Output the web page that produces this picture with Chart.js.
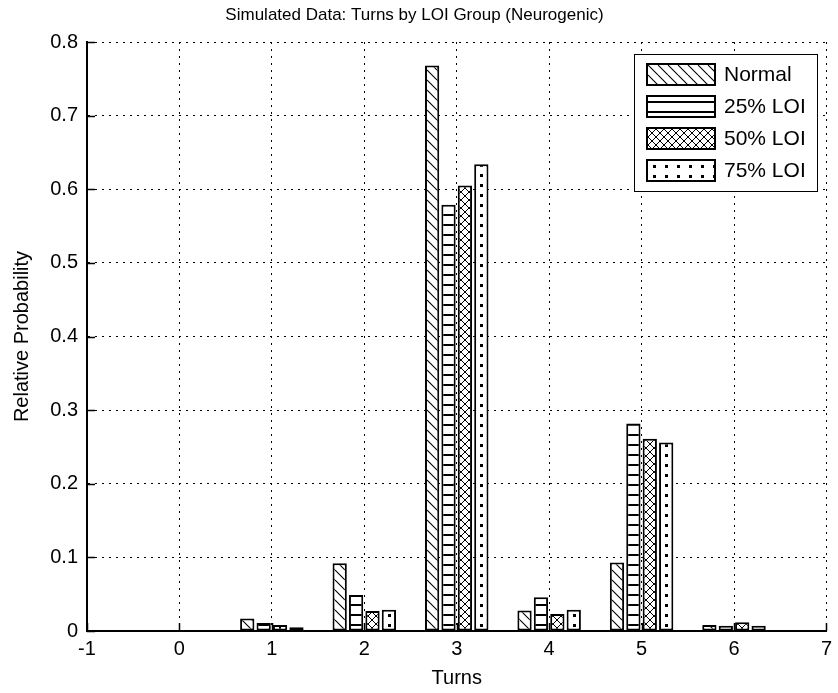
<!DOCTYPE html>
<html>
<head>
<meta charset="utf-8">
<title>Simulated Data: Turns by LOI Group (Neurogenic)</title>
<script src="https://cdn.jsdelivr.net/npm/chart.js@4.4.1/dist/chart.umd.min.js"></script>
<style>
  html, body { margin: 0; padding: 0; background: #fff; }
  #turns-chart { display: block; }
</style>
</head>
<body>
<canvas id="turns-chart" width="838" height="693"></canvas>
<script>
// Turns by LOI group - relative probability per number of turns

// Data
const turns = [1, 2, 3, 4, 5, 6];
const normalProb = [0.017, 0.092, 0.768, 0.028, 0.093, 0.008];
const loi25Prob = [0.011, 0.049, 0.579, 0.046, 0.282, 0.007];
const loi50Prob = [0.008, 0.027, 0.605, 0.023, 0.261, 0.012];
const loi75Prob = [0.005, 0.029, 0.634, 0.029, 0.256, 0.007];
const groupLabels = ['Normal', '25% LOI', '50% LOI', '75% LOI'];
const xTickLabels = ['-1', '0', '1', '2', '3', '4', '5', '6', '7'];
const yTickLabels = ['0', '0.1', '0.2', '0.3', '0.4', '0.5', '0.6', '0.7', '0.8'];

const FONT = "'Liberation Sans', Arial, Helvetica, sans-serif";
const CAT_PCT = 0.71;
const BAR_PCT = 0.87;

// Hatch tiles, MATLAB hatchfill look
function makeTile(kind) {
  const c = document.createElement('canvas');
  const g = c.getContext('2d');
  if (kind === 'diag') {
    c.width = 10; c.height = 10;
    g.fillStyle = '#fff';
    g.fillRect(0, 0, 10, 10);
    g.strokeStyle = '#000';
    g.lineWidth = 1.1;
    g.beginPath();
    [-10, 0, 10].forEach(k => { g.moveTo(k, 0); g.lineTo(k + 10, 10); });
    g.stroke();
  } else if (kind === 'hline') {
    c.width = 10; c.height = 10;
    g.fillStyle = '#fff';
    g.fillRect(0, 0, 10, 10);
    g.fillStyle = '#000';
    g.fillRect(0, 4, 10, 2);
  } else if (kind === 'cross') {
    c.width = 8; c.height = 8;
    g.fillStyle = '#fff';
    g.fillRect(0, 0, 8, 8);
    g.strokeStyle = '#000';
    g.lineWidth = 1;
    g.beginPath();
    [-8, 0, 8].forEach(k => {
      g.moveTo(k, 0); g.lineTo(k + 8, 8);
      g.moveTo(k + 8, 0); g.lineTo(k, 8);
    });
    g.stroke();
  } else {
    c.width = 12; c.height = 10;
    g.fillStyle = '#fff';
    g.fillRect(0, 0, 12, 10);
    g.fillStyle = '#000';
    g.fillRect(5, 4, 3, 3);
  }
  return c;
}

const tiles = {
  diag: makeTile('diag'),
  hline: makeTile('hline'),
  cross: makeTile('cross'),
  dots: makeTile('dots')
};
const patternCtx = tiles.diag.getContext('2d');

function makePattern(kind, dx, dy) {
  const pattern = patternCtx.createPattern(tiles[kind], 'repeat');
  if (isFinite(dx) && isFinite(dy)) {
    pattern.setTransform(new DOMMatrix().translate(Math.round(dx), Math.round(dy)));
  }
  return pattern;
}

// Fill each bar with its pattern lined up on the bar centre
function barFill(kind, seriesIndex) {
  return (ctx) => {
    const xScale = ctx.chart.scales.x;
    if (ctx.type !== 'data' || !xScale) return makePattern(kind, 0, 0);
    const unit = xScale.getPixelForValue(1) - xScale.getPixelForValue(0);
    const size = unit * CAT_PCT;
    const chunk = size / groupLabels.length;
    const center = xScale.getPixelForValue(ctx.raw.x) - size / 2 + chunk * (seriesIndex + 0.5);
    return makePattern(kind, center - tiles[kind].width / 2, 0);
  };
}

const seriesValues = [normalProb, loi25Prob, loi50Prob, loi75Prob];
const seriesKinds = ['diag', 'hline', 'cross', 'dots'];

const datasets = seriesValues.map((values, i) => ({
  label: groupLabels[i],
  data: turns.map((t, j) => ({ x: t, y: values[j] })),
  backgroundColor: barFill(seriesKinds[i], i),
  borderColor: '#000',
  borderWidth: 2,
  borderSkipped: false,
  categoryPercentage: CAT_PCT,
  barPercentage: BAR_PCT
}));

// Inward tick marks on left and bottom axes
const matlabTicks = {
  id: 'matlabTicks',
  afterDraw(chart) {
    const { ctx, chartArea, scales } = chart;
    ctx.save();
    ctx.strokeStyle = '#000';
    ctx.lineWidth = 1.5;
    ctx.beginPath();
    scales.x.ticks.forEach(t => {
      const px = Math.round(scales.x.getPixelForValue(t.value)) + 0.5;
      ctx.moveTo(px, chartArea.bottom);
      ctx.lineTo(px, chartArea.bottom - 8);
    });
    scales.y.ticks.forEach(t => {
      const py = Math.round(scales.y.getPixelForValue(t.value)) + 0.5;
      ctx.moveTo(chartArea.left, py);
      ctx.lineTo(chartArea.left + 8, py);
    });
    ctx.stroke();
    ctx.restore();
  }
};

// Boxed legend in the upper right corner of the axes
const legendBox = {
  id: 'legendBox',
  afterDatasetsDraw(chart) {
    const { ctx, chartArea } = chart;
    const swW = 70, swH = 23, rowH = 32, padX = 12, padY = 9, gap = 8;
    ctx.save();
    ctx.font = `21px ${FONT}`;
    const textW = Math.max(...groupLabels.map(t => ctx.measureText(t).width));
    const w = Math.round(padX + swW + gap + textW + 11);
    const h = padY * 2 + rowH * (groupLabels.length - 1) + swH;
    const left = Math.round(chartArea.right - 9 - w);
    const top = Math.round(chartArea.top + 12);

    ctx.fillStyle = '#fff';
    ctx.fillRect(left, top, w, h);
    ctx.strokeStyle = '#000';
    ctx.lineWidth = 1;
    ctx.strokeRect(left + 0.5, top + 0.5, w, h);

    groupLabels.forEach((label, i) => {
      const sx = left + padX;
      const sy = top + padY + i * rowH;
      ctx.fillStyle = makePattern(seriesKinds[i], sx + 2, sy + 2);
      ctx.fillRect(sx, sy, swW, swH);
      ctx.lineWidth = 2;
      ctx.strokeRect(sx + 1, sy + 1, swW - 2, swH - 2);
      ctx.fillStyle = '#000';
      ctx.textBaseline = 'middle';
      ctx.textAlign = 'left';
      ctx.fillText(label, sx + swW + gap, sy + swH / 2 + 1);
    });
    ctx.restore();
  }
};

const chart = new Chart(document.getElementById('turns-chart').getContext('2d'), {
  type: 'bar',
  data: { datasets: datasets },
  options: {
    responsive: false,
    animation: false,
    events: [],
    layout: { padding: { left: 0, right: 9, top: 0, bottom: 0 } },
    scales: {
      x: {
        type: 'linear',
        min: -1,
        max: 7,
        offset: false,
        afterFit: (scale) => { scale.height = 62; },
        ticks: {
          stepSize: 1,
          padding: 6,
          color: '#000',
          font: { family: FONT, size: 20 },
          callback: (v, i) => xTickLabels[i]
        },
        grid: { color: '#000', lineWidth: 1, drawTicks: false, offset: false },
        border: { display: true, color: '#000', width: 2, dash: [2, 5] },
        title: {
          display: true,
          text: 'Turns',
          color: '#000',
          font: { family: FONT, size: 20 },
          padding: { top: 0, bottom: 3 }
        }
      },
      y: {
        min: 0,
        max: 0.8,
        afterFit: (scale) => { scale.width = 87; },
        ticks: {
          stepSize: 0.1,
          padding: 9,
          color: '#000',
          font: { family: FONT, size: 20 },
          callback: (v, i) => yTickLabels[i]
        },
        grid: { color: '#000', lineWidth: 1, drawTicks: false },
        border: { display: true, color: '#000', width: 2, dash: [2, 5] },
        title: {
          display: true,
          text: 'Relative Probability',
          color: '#000',
          font: { family: FONT, size: 20 },
          padding: { top: 10, bottom: 0 }
        }
      }
    },
    plugins: {
      legend: { display: false },
      tooltip: { enabled: false },
      title: {
        display: true,
        text: 'Simulated Data: Turns by LOI Group (Neurogenic)',
        color: '#000',
        font: { family: FONT, size: 17, weight: 'normal' },
        padding: { top: 5, bottom: 16.6 }
      }
    }
  },
  plugins: [matlabTicks, legendBox]
});
</script>
</body>
</html>
